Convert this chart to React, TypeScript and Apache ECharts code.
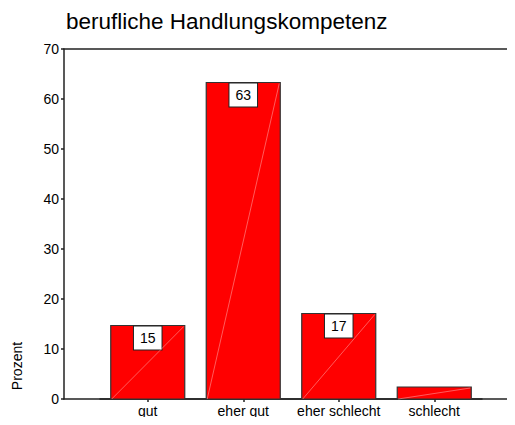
import React, { useEffect, useRef } from "react";
import * as echarts from "echarts";

const categories = ["gut", "eher gut", "eher schlecht", "schlecht"];
const percent = [14.7, 63.3, 17.1, 2.4];
const barLabels = ["15", "63", "17", ""];
const yTicks = { min: 0, max: 70, interval: 10 };
const titleText = "berufliche Handlungskompetenz";
const yName = "Prozent";

const FONT = "Arial, 'Liberation Sans', sans-serif";

export default function App() {
  const ref = useRef<HTMLDivElement>(null);
  useEffect(() => {
    if (!ref.current) return;
    const chart = echarts.init(ref.current, undefined, { renderer: "svg" });
    const option: any = {
      animation: false,
      backgroundColor: "#fff",
      title: {
        text: titleText,
        left: 61,
        top: 5,
        textStyle: { fontFamily: FONT, fontSize: 22.5, fontWeight: "normal", color: "#000" },
      },
      graphic: [
        {
          type: "text",
          x: 10,
          y: 366,
          rotation: Math.PI / 2,
          style: {
            text: yName,
            fontFamily: FONT,
            fontSize: 14,
            fill: "#000",
            align: "center",
            verticalAlign: "top",
          },
        },
      ],
      grid: [
        { left: 100, right: 33, top: 49, bottom: 26 },
        { left: 64, right: 2, top: 49, bottom: 26 },
      ],
      xAxis: [
        {
          type: "category",
          gridIndex: 0,
          data: categories,
          axisLine: { show: true, lineStyle: { color: "#222", width: 1.5 } },
          axisTick: { show: true, alignWithLabel: true, length: 3, lineStyle: { color: "#222", width: 1.5 } },
          axisLabel: { interval: 0, fontFamily: FONT, fontSize: 14, color: "#000", margin: 5 },
          splitLine: { show: false },
        },
        {
          type: "value",
          gridIndex: 1,
          min: 0,
          max: 1,
          position: "bottom",
          axisLine: { show: true, lineStyle: { color: "#222", width: 1.5 } },
          axisTick: { show: false },
          axisLabel: { show: false },
          splitLine: { show: false },
        },
        {
          type: "value",
          gridIndex: 1,
          min: 0,
          max: 1,
          position: "top",
          axisLine: { show: true, lineStyle: { color: "#222", width: 1.5 } },
          axisTick: { show: false },
          axisLabel: { show: false },
          splitLine: { show: false },
        },
      ],
      yAxis: [
        {
          type: "value",
          gridIndex: 0,
          min: yTicks.min,
          max: yTicks.max,
          interval: yTicks.interval,
          offset: 36,
          axisLine: { show: true, lineStyle: { color: "#222", width: 1.5 } },
          axisTick: { show: true, length: 3, lineStyle: { color: "#222", width: 1.5 } },
          axisLabel: { fontFamily: FONT, fontSize: 14, color: "#000", margin: 5 },
          splitLine: { show: false },
        },
        { type: "value", gridIndex: 1, show: false, min: 0, max: 1 },
      ],
      series: [
        {
          type: "custom",
          xAxisIndex: 0,
          yAxisIndex: 0,
          data: percent.map((v, i) => [i, v]),
          encode: { x: 0, y: 1 },
          renderItem: (params: any, api: any) => {
            const i = api.value(0);
            const v = api.value(1);
            const top = api.coord([i, v]);
            const base = api.coord([i, 0]);
            const w = api.size([1, 0])[0] * 0.775;
            const x0 = top[0] - w / 2;
            const children: any[] = [
              {
                type: "rect",
                shape: { x: x0, y: top[1], width: w, height: base[1] - top[1] },
                style: { fill: "#ff0000", stroke: "#333", lineWidth: 1.2 },
              },
            ];
            const lbl = barLabels[params.dataIndex];
            if (lbl) {
              children.push({
                type: "text",
                style: {
                  text: lbl,
                  x: top[0],
                  y: top[1] + 1,
                  align: "center",
                  verticalAlign: "top",
                  fontFamily: FONT,
                  fontSize: 14,
                  fill: "#000",
                  backgroundColor: "#fff",
                  borderColor: "#222",
                  borderWidth: 1,
                  padding: [4, 6, 4, 6],
                  lineHeight: 15,
                },
              });
            }
            children.push({
              type: "line",
              shape: { x1: x0 + 1, y1: base[1], x2: x0 + w - 1, y2: top[1] + 1 },
              style: { stroke: "rgba(255,180,180,0.85)", lineWidth: 0.6 },
            });
            return { type: "group", children };
          },
        },
      ],
    };
    chart.setOption(option);
    return () => chart.dispose();
  }, []);
  return <div ref={ref} style={{ width: 515, height: 425, margin: -8 }} />;
}
